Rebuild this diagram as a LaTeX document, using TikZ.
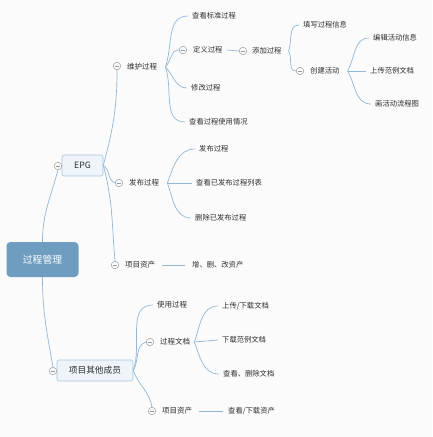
\documentclass[tikz,border=0pt]{standalone}
\usepackage{fontspec}
\setmainfont{Noto Sans CJK SC}
\definecolor{rootblue}{HTML}{6E9DC0}
\definecolor{boxfill}{HTML}{EEF4F9}
\definecolor{boxedge}{HTML}{A8C5DC}
\definecolor{linkblue}{HTML}{93B7D5}
\definecolor{foldgray}{HTML}{9A9A9A}
\definecolor{txtgray}{HTML}{2E2E2E}
\definecolor{paper}{HTML}{FBFBFB}
\tikzset{
  rootbox/.style={rounded corners=4pt, fill=rootblue, text=white, minimum width=72pt,
    minimum height=35pt, font=\fontsize{9.8}{11}\selectfont},
  topicbox/.style={rounded corners=2pt, draw=boxedge, fill=boxfill, text=txtgray,
    minimum height=21pt, line width=0.6pt, font=\fontsize{8.7}{10}\selectfont},
  leaf/.style={anchor=west, inner xsep=4pt, inner ysep=1pt, text=txtgray,
    font=\fontsize{7.3}{8.5}\selectfont},
  subtopic/.style={leaf, font=\fontsize{7.5}{8.5}\selectfont},
  fold/.style={circle, draw=foldgray, fill=paper, minimum size=7.5pt, inner sep=0pt,
    line width=0.5pt,
    path picture={\draw[foldgray, line width=0.5pt]
      ([xshift=-2.4pt]path picture bounding box.center) -- ++(4.8pt,0);}},
  link/.style={draw=linkblue, line width=0.7pt}
}
\begin{document}
\begin{tikzpicture}[x=1pt, y=-1pt]
  \fill[paper] (0,0) rectangle (432,437);
  \useasboundingbox (0,0) rectangle (432,437);

  % main topics
  \node[rootbox] (gc) at (42.5,259.5) {过程管理};
  \node[topicbox, minimum width=41pt] (epg) at (82.5,165.5) {EPG};
  \node[topicbox, minimum width=76pt] (qt) at (95,370.5) {项目其他成员};

  % EPG branch
  \node[subtopic] (wh) at (123,67) {维护过程};
  \node[subtopic] (fb) at (125,183) {发布过程};
  \node[subtopic] (zc1) at (121,265) {项目资产};

  \node[leaf] (ck) at (188,16) {查看标准过程};
  \node[leaf] (dy) at (189,50) {定义过程};
  \node[leaf] (xg) at (187,88) {修改过程};
  \node[leaf] (sy) at (185,122) {查看过程使用情况};

  \node[leaf] (tj) at (248,51) {添加过程};
  \node[leaf] (tx) at (299,25) {填写过程信息};
  \node[leaf] (cj) at (306,71) {创建活动};

  \node[leaf] (bj) at (369,38) {编辑活动信息};
  \node[leaf] (sc) at (366,71) {上传范例文档};
  \node[leaf] (hh) at (371,104) {画活动流程图};

  \node[leaf] (fb1) at (195,149) {发布过程};
  \node[leaf] (lb) at (192,183) {查看已发布过程列表};
  \node[leaf] (sc2) at (191,218) {删除已发布过程};

  \node[leaf] (zsg) at (188,265) {增、删、改资产};

  % other members branch
  \node[subtopic] (syg) at (153,305) {使用过程};
  \node[subtopic] (wd) at (156,342) {过程文档};
  \node[subtopic] (zc2) at (158,411) {项目资产};

  \node[leaf] (scx) at (218,306) {上传/下载文档};
  \node[leaf] (xz) at (218,340) {下载范例文档};
  \node[leaf] (sc3) at (219,374) {查看、删除文档};
  \node[leaf] (ckx) at (224,411) {查看/下载资产};

  % fold markers
  \node[fold] (f-epg) at (58,166) {};
  \node[fold] (f-qt) at (53,371) {};
  \node[fold] (f-wh) at (117,66) {};
  \node[fold] (f-fb) at (119,183) {};
  \node[fold] (f-zc1) at (115,265) {};
  \node[fold] (f-dy) at (183,50) {};
  \node[fold] (f-tj) at (243,51) {};
  \node[fold] (f-cj) at (300,71) {};
  \node[fold] (f-wd) at (150,342) {};
  \node[fold] (f-zc2) at (152,411) {};

  % branch points
  \coordinate (wh-b) at ([xshift=4pt]wh.east);
  \coordinate (tj-b) at ([xshift=3pt]tj.east);
  \coordinate (cj-b) at ([xshift=4pt]cj.east);
  \coordinate (fb-b) at ([xshift=4pt]fb.east);
  \coordinate (wd-b) at (wd.east);

  % connectors
  \draw[link] (gc.north) to[out=90,in=-105] (f-epg.south);
  \draw[link] (gc.south) to[out=-90,in=100] (f-qt.north);

  \draw[link] (epg.east) to[out=75,in=-90] (f-wh.south);
  \draw[link] (epg.east) to[out=-30,in=160] (f-fb.west);
  \draw[link] (epg.east) to[out=-75,in=95] (f-zc1.north);

  \draw[link] (wh-b) to[out=70,in=180] (ck.west);
  \draw[link] (wh-b) to[out=45,in=180] (f-dy.west);
  \draw[link] (wh-b) to[out=-45,in=180] (xg.west);
  \draw[link] (wh-b) to[out=-70,in=180] (sy.west);

  \draw[link] (dy.east) -- (f-tj.west);
  \draw[link] (tj-b) to[out=70,in=180] (tx.west);
  \draw[link] (tj-b) to[out=-60,in=180] (f-cj.west);

  \draw[link] (cj-b) to[out=60,in=180] (bj.west);
  \draw[link] (cj-b) -- (sc.west);
  \draw[link] (cj-b) to[out=-60,in=180] (hh.west);

  \draw[link] (fb-b) to[out=70,in=180] (fb1.west);
  \draw[link] (fb-b) -- (lb.west);
  \draw[link] (fb-b) to[out=-70,in=180] (sc2.west);

  \draw[link] ([xshift=3pt]zc1.east) -- ([xshift=-3pt]zsg.west);

  \draw[link] (qt.east) to[out=70,in=180] (syg.west);
  \draw[link] (qt.east) to[out=60,in=200] (f-wd.west);
  \draw[link] (qt.east) to[out=-70,in=100] (f-zc2.north);

  \draw[link] (wd-b) to[out=70,in=180] (scx.west);
  \draw[link] (wd-b) -- (xz.west);
  \draw[link] (wd-b) to[out=-70,in=180] (sc3.west);

  \draw[link] ([xshift=3pt]zc2.east) -- ([xshift=-1pt]ckx.west);
\end{tikzpicture}
\end{document}
